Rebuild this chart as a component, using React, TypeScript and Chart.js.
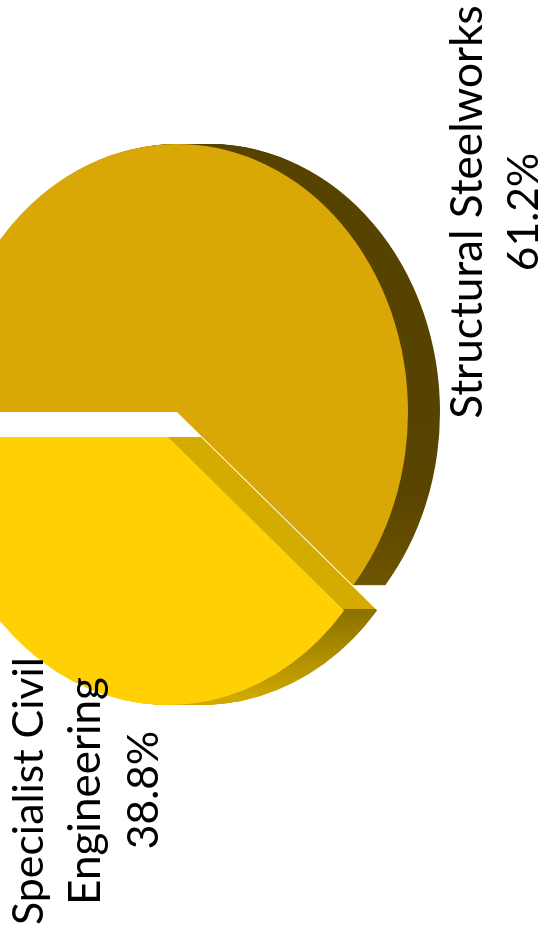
import React, { useEffect, useRef } from "react";
import { Chart, registerables } from "chart.js";

Chart.register(...registerables);

// Revenue split by business line
const sliceNames = ["Structural Steelworks", "Specialist Civil Engineering"];
const sliceValues = [61.2, 38.8];
const sliceColors = ["#D9A706", "#FFD105"];

const WIDTH = 544;
const HEIGHT = 939;

// Pseudo-3D look: the pie is squeezed horizontally and extruded to the right.
const RADIUS = 268;
const SQUEEZE = 231 / 268;
const STEEL_DEPTH = 32;
const CIVIL_DEPTH = 33;
const EXPLODE_X = -9;
const EXPLODE_Y = 25;
const EDGE_Y = 609; // height of the exploded slice's corner, where its cut wall meets its rim

const LABEL_FAMILY = 'Lato, "Open Sans", sans-serif';
const labelLines = [
  { text: "Structural Steelworks", x: 482, y: 212, size: 44.2 },
  { text: `${sliceValues[0]}%`, x: 538, y: 212, size: 42.6 },
  { text: "Specialist Civil", x: 43, y: 791, size: 42.8 },
  { text: "Engineering", x: 100, y: 791, size: 44 },
  { text: `${sliceValues[1]}%`, x: 158, y: 790, size: 42.6 },
];

function paintExtrusion(ctx: CanvasRenderingContext2D, arc: any, fill: CanvasGradient, pivotX: number, depth: number) {
  const shadow = Object.create(arc);
  shadow.options = { ...arc.options, backgroundColor: fill };
  for (let step = depth; step >= 1; step--) {
    ctx.save();
    ctx.translate(step, 0);
    ctx.translate(pivotX, 0);
    ctx.scale(SQUEEZE, 1);
    ctx.translate(-pivotX, 0);
    shadow.draw(ctx);
    ctx.restore();
  }
}

const tiltedPie = {
  id: "tiltedPie",
  afterDatasetsUpdate(chart: any) {
    const civil = chart.getDatasetMeta(0).data[1];
    civil.x += EXPLODE_X / SQUEEZE;
    civil.y += EXPLODE_Y;
  },
  beforeDatasetsDraw(chart: any) {
    const { ctx } = chart;
    const [steel, civil] = chart.getDatasetMeta(0).data;
    const pivotX = steel.x;

    const steelSide = ctx.createLinearGradient(0, steel.y, 0, steel.y + 172);
    steelSide.addColorStop(0, "#574300");
    steelSide.addColorStop(0.5, "#5A4500");
    steelSide.addColorStop(1, "#6E5500");
    paintExtrusion(ctx, steel, steelSide, pivotX, STEEL_DEPTH);

    const top = civil.y;
    const bottom = civil.y + RADIUS;
    const edge = (EDGE_Y - top) / (bottom - top);
    const civilSide = ctx.createLinearGradient(0, top, 0, bottom);
    civilSide.addColorStop(0, "#D4AC00");
    civilSide.addColorStop(edge, "#D4AC00");
    civilSide.addColorStop(edge, "#8A7000");
    civilSide.addColorStop(1, "#D4AC00");
    paintExtrusion(ctx, civil, civilSide, pivotX, CIVIL_DEPTH);

    ctx.save();
    ctx.translate(pivotX, 0);
    ctx.scale(SQUEEZE, 1);
    ctx.translate(-pivotX, 0);
  },
  afterDatasetsDraw(chart: any) {
    chart.ctx.restore();
  },
  afterDraw(chart: any) {
    const { ctx } = chart;
    ctx.save();
    ctx.fillStyle = "#000000";
    ctx.textAlign = "center";
    ctx.textBaseline = "alphabetic";
    for (const line of labelLines) {
      ctx.save();
      ctx.font = `400 ${line.size}px ${LABEL_FAMILY}`;
      ctx.translate(line.x, line.y);
      ctx.rotate(-Math.PI / 2);
      ctx.fillText(line.text, 0, 0);
      ctx.restore();
    }
    ctx.restore();
  },
};

export default function App() {
  const canvasRef = useRef<HTMLCanvasElement | null>(null);

  useEffect(() => {
    if (!canvasRef.current) return;
    const chart = new Chart(canvasRef.current, {
      type: "pie",
      data: {
        labels: sliceNames,
        datasets: [{ data: sliceValues, backgroundColor: sliceColors, borderWidth: 0 }],
      },
      options: {
        animation: false,
        responsive: false,
        events: [],
        radius: RADIUS,
        rotation: -90,
        layout: { padding: { right: 190, bottom: 115 } },
        plugins: { legend: { display: false }, tooltip: { enabled: false } },
      },
      plugins: [tiltedPie],
    } as any);
    return () => chart.destroy();
  }, []);

  return (
    <div style={{ position: "fixed", left: 0, top: 0, width: WIDTH, height: HEIGHT, overflow: "hidden", background: "#fff" }}>
      <canvas ref={canvasRef} width={WIDTH} height={HEIGHT} style={{ display: "block" }} />
    </div>
  );
}
